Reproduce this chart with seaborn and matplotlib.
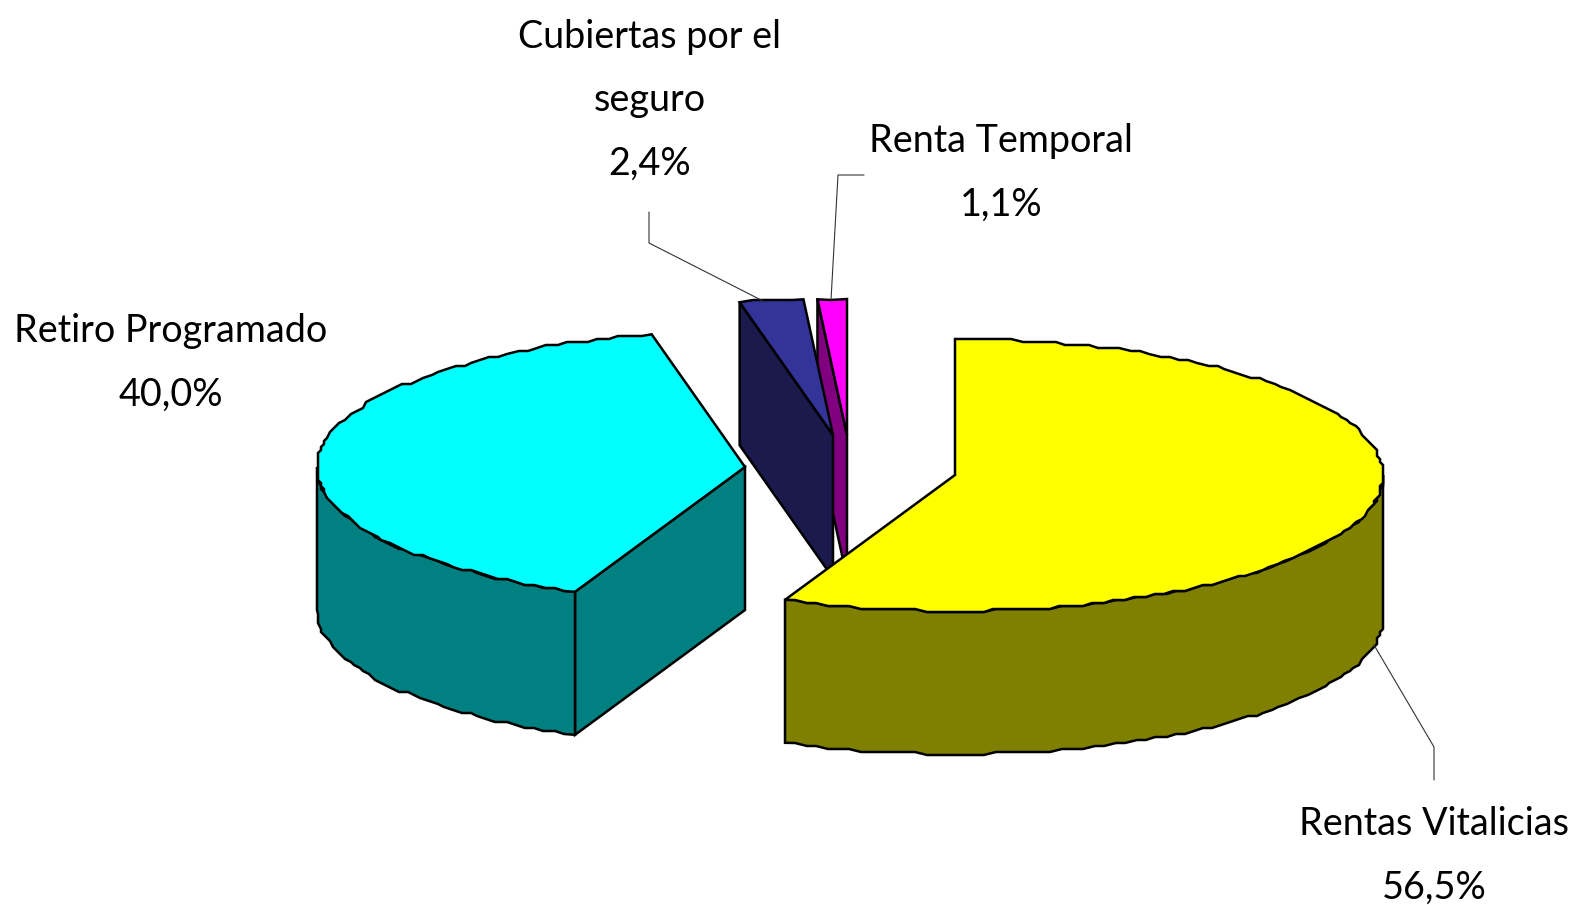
import numpy as np
import matplotlib
matplotlib.use("Agg")
import matplotlib.pyplot as plt
import seaborn as sns

categories = ["Rentas Vitalicias", "Retiro Programado", "Cubiertas por el seguro", "Renta Temporal"]
values = [56.5, 40.0, 2.4, 1.1]
label_lines = [["Rentas Vitalicias"], ["Retiro Programado"], ["Cubiertas por el", "seguro"], ["Renta Temporal"]]

top_colors = sns.color_palette(["#FFFF00", "#00FFFF", "#333399", "#FF00FF"])
side_colors = sns.color_palette(["#808000", "#008080", "#1A1A4D", "#800080"])

# pie geometry in pixels, every slice is pulled out to its own apex
RX, RY, DEPTH = 428, 136, 143
apexes = [(955, 475), (745, 467), (833, 435), (847, 435)]
# centre x and baseline of the first text line of each label
label_pos = [(1434, 835), (171, 342), (650, 48), (1001, 152)]
LINE_GAP = 63.5
leaders = [
    ([1374, 1434, 1434], [645, 747, 780]),
    None,
    ([649, 649, 765], [212, 243, 302]),
    ([864, 838, 831], [175, 175, 300]),
]

sns.set_theme(style="white")
plt.rcParams["font.family"] = ["Lato", "DejaVu Sans"]

fig, ax = plt.subplots(figsize=(15.74, 9.05), dpi=100)
ax.set_position([0, 0, 1, 1])
ax.set_xlim(0, 1574)
ax.set_ylim(905, 0)
ax.axis("off")


def arc(apex, a0, a1):
    # points on the ellipse, snapped to a small grid for the stepped outline
    n = max(int(abs(a1 - a0) / 1.5), 1)
    t = np.radians(np.linspace(a0, a1, n + 1))
    x = apex[0] + RX * np.sin(t)
    y = apex[1] - RY * np.cos(t)
    x[1:-1] = np.round(x[1:-1] / 3) * 3
    y[1:-1] = np.round(y[1:-1] / 3) * 3
    return x, y


def draw_wedge(apex, a0, a1, top, side):
    # start wall
    if a0 > 180:
        x, y = arc(apex, a0, a0)
        ax.fill([apex[0], x[0], x[0], apex[0]],
                [apex[1], y[0], y[0] + DEPTH, apex[1] + DEPTH],
                fc=side, ec="black", lw=1.8, joinstyle="miter")
    # outer wall, only the front half of the rim shows
    lo, hi = max(a0, 90), min(a1, 270)
    if lo < hi:
        x, y = arc(apex, lo, hi)
        ax.fill(np.r_[x, x[::-1]], np.r_[y, y[::-1] + DEPTH],
                fc=side, ec="black", lw=1.8)
    x, y = arc(apex, a0, a1)
    ax.fill(np.r_[apex[0], x], np.r_[apex[1], y],
            fc=top, ec="black", lw=1.8, joinstyle="miter")


edges = np.r_[0, np.cumsum(values)] * 3.6
for i in reversed(range(len(values))):
    draw_wedge(apexes[i], edges[i], edges[i + 1], top_colors[i], side_colors[i])

for i in range(len(values)):
    if leaders[i]:
        ax.plot(leaders[i][0], leaders[i][1], color="#333333", lw=0.8)
    lines = label_lines[i] + [f"{values[i]:.1f}".replace(".", ",") + "%"]
    for j, line in enumerate(lines):
        ax.text(label_pos[i][0], label_pos[i][1] + j * LINE_GAP, line,
                ha="center", va="baseline", fontsize=27.2, color="black")

plt.savefig("out.png", dpi=100)
